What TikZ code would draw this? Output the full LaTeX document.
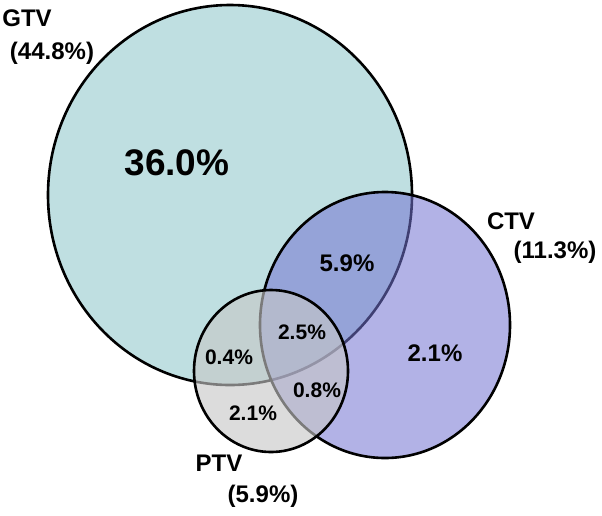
\documentclass[tikz,border=0pt]{standalone}
\usepackage{fontspec}
\setmainfont{Liberation Sans}
\usepackage{xcolor}
\usetikzlibrary{positioning}
\definecolor{gtvcol}{RGB}{191,223,225}
\definecolor{ctvcol}{RGB}{115,115,209}
\definecolor{ptvcol}{RGB}{199,199,199}
\begin{document}
\begin{tikzpicture}[x=1pt,y=-1pt,
  venn/.style={line width=2.6pt,draw=black},
  lab/.style={inner sep=0pt,font=\bfseries\fontsize{24}{28}\selectfont},
  pct/.style={inner sep=0pt,font=\bfseries\fontsize{21}{25}\selectfont}]
\useasboundingbox (0,0) rectangle (602,515);
% Regions
\filldraw[venn,fill=gtvcol] (230,195) ellipse [x radius=182, y radius=190];
\filldraw[venn,fill=ctvcol,fill opacity=0.55] (385,325) ellipse [x radius=125, y radius=133];
\filldraw[venn,fill=ptvcol,fill opacity=0.62] (271,371) ellipse [x radius=77, y radius=81];
% Set labels
\node[lab] (gtv) at (27,18) {GTV};
\node[lab] (gtvpct) at (52,53) {(44.8\%)};
\node[lab] (ctv) at (511,221) {CTV};
\node[lab] (ctvpct) at (555,252) {(11.3\%)};
\node[lab] (ptv) at (219,463) {PTV};
\node[lab] (ptvpct) at (263,496) {(5.9\%)};
% Region values
\node[inner sep=0pt,font=\bfseries\fontsize{37}{42}\selectfont] (gonly) at (177,163) {36.0\%};
\node[lab] (gc) at (347,263) {5.9\%};
\node[lab] (conly) at (435,353) {2.1\%};
\node[pct] (gcp) at (302,332) {2.5\%};
\node[pct] (gp) at (229,357) {0.4\%};
\node[pct] (cp) at (317,390) {0.8\%};
\node[pct] (ponly) at (253,413) {2.1\%};
\end{tikzpicture}
\end{document}
